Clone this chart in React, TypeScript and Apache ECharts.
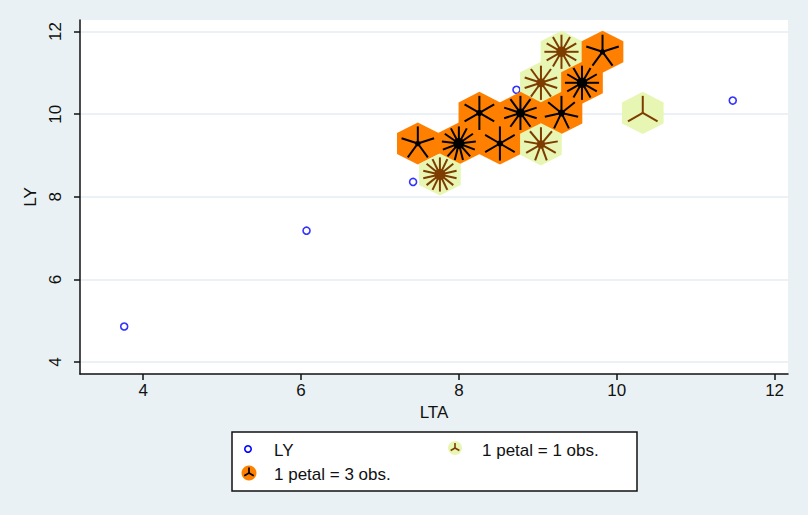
import React, { useEffect, useRef } from "react";
import * as echarts from "echarts";

// Plain scatter observations (LY vs LTA) not binned into sunflowers
const pointX = [3.76, 6.07, 7.42, 8.73, 11.47];
const pointY = [4.86, 7.18, 8.36, 10.59, 10.33];

// Sunflower bins: centre, petal count, kind (0 = light: 1 petal = 1 obs, 1 = dark: 1 petal = 3 obs)
const flowerX = [9.3, 9.82, 9.04, 9.56, 8.26, 8.78, 9.3, 10.33, 7.48, 8.0, 8.52, 9.04, 7.76];
const flowerY = [11.51, 11.51, 10.76, 10.76, 10.03, 10.03, 10.03, 10.03, 9.29, 9.29, 9.29, 9.27, 8.54];
const flowerPetals = [12, 5, 10, 12, 6, 10, 7, 3, 5, 13, 6, 9, 14];
const flowerKind = [0, 1, 0, 1, 1, 1, 1, 0, 1, 1, 1, 0, 0];

const xTicks = [4, 6, 8, 10, 12];
const yTicks = [4, 6, 8, 10, 12];

const legendLabels = ["LY", "1 petal = 1 obs.", "1 petal = 3 obs."];

const HEX_W = 0.528;
const HEX_H = 1.02;

const FONT = "'Liberation Sans', Arial, Helvetica, sans-serif";
const FS = 17;
const LIGHT_FILL = "#e8f6b3";
const LIGHT_PETAL = "#7d3c00";
const DARK_FILL = "#ff8000";
const DARK_PETAL = "#000000";
const BLUE = "#0000ff";

function petalLines(cx: number, cy: number, n: number, len: number, color: string, lw: number) {
  const out: any[] = [];
  for (let k = 0; k < n; k++) {
    const a = (2 * Math.PI * k) / n;
    out.push({
      type: "line",
      shape: { x1: cx, y1: cy, x2: cx + len * Math.sin(a), y2: cy - len * Math.cos(a) },
      style: { stroke: color, lineWidth: lw, lineCap: "butt" },
    });
  }
  return out;
}

export default function App() {
  const ref = useRef<HTMLDivElement>(null);
  useEffect(() => {
    if (!ref.current) return;
    const chart = echarts.init(ref.current, null, { renderer: "svg" });

    const flowerData = flowerX.map((x, i) => [x, flowerY[i], flowerPetals[i]]);
    const pointData = pointX.map((x, i) => [x, pointY[i]]);

    const legendGraphic: any[] = [
      {
        type: "rect",
        shape: { x: 232, y: 432, width: 405, height: 59 },
        style: { fill: "#ffffff", stroke: "#111", lineWidth: 1.5 },
      },
      {
        type: "circle",
        shape: { cx: 248, cy: 449, r: 3.2 },
        style: { fill: "#ffffff", stroke: BLUE, lineWidth: 1.6 },
      },
      {
        type: "text",
        style: { x: 274, y: 450, text: legendLabels[0], font: `${FS}px ${FONT}`, fill: "#111", verticalAlign: "middle" },
      },
      { type: "circle", shape: { cx: 455, cy: 448, r: 7 }, style: { fill: LIGHT_FILL } },
      ...petalLines(455, 448, 3, 5, LIGHT_PETAL, 1.6),
      {
        type: "text",
        style: { x: 482, y: 450, text: legendLabels[1], font: `${FS}px ${FONT}`, fill: "#111", verticalAlign: "middle" },
      },
      { type: "circle", shape: { cx: 249, cy: 473, r: 7.5 }, style: { fill: DARK_FILL } },
      ...petalLines(249, 473, 3, 5.5, DARK_PETAL, 1.7),
      {
        type: "text",
        style: { x: 274, y: 474, text: legendLabels[2], font: `${FS}px ${FONT}`, fill: "#111", verticalAlign: "middle" },
      },
    ];

    chart.setOption({
      animation: false,
      backgroundColor: "#e9f1f4",
      textStyle: { fontFamily: FONT },
      grid: {
        left: 80,
        top: 20,
        right: 20,
        bottom: 141,
        show: true,
        backgroundColor: "#ffffff",
        borderWidth: 0,
      },
      xAxis: {
        type: "value",
        min: 3.2,
        max: 12.17,
        name: "LTA",
        nameLocation: "middle",
        nameGap: 24,
        nameTextStyle: { fontSize: FS, color: "#111", fontFamily: FONT },
        axisLine: { show: true, onZero: false, lineStyle: { color: "#111", width: 1.5 } },
        axisTick: { show: true, length: 6, lineStyle: { color: "#111", width: 1.5 }, customValues: xTicks },
        axisLabel: { fontSize: FS, color: "#111", margin: 8, customValues: xTicks, fontFamily: FONT },
        splitLine: { show: false },
      },
      yAxis: {
        type: "value",
        min: 3.71,
        max: 12.28,
        name: "LY",
        nameLocation: "middle",
        nameGap: 40,
        nameTextStyle: { fontSize: FS, color: "#111", fontFamily: FONT },
        axisLine: { show: true, onZero: false, lineStyle: { color: "#111", width: 1.5 } },
        axisTick: { show: true, length: 6, lineStyle: { color: "#111", width: 1.5 }, customValues: yTicks },
        axisLabel: { fontSize: FS, color: "#111", margin: 16, rotate: 90, customValues: yTicks, fontFamily: FONT },
        splitLine: { show: true, lineStyle: { color: "#e4ecf0", width: 1.5 }, customValues: yTicks },
      },
      series: [
        {
          name: "LY",
          type: "scatter",
          data: pointData,
          symbol: "circle",
          symbolSize: 7,
          itemStyle: { color: "#ffffff", borderColor: BLUE, borderWidth: 1.6 },
          z: 2,
        },
        {
          name: "sunflowers",
          type: "custom",
          data: flowerData,
          z: 3,
          renderItem: (params: any, api: any) => {
            const i = params.dataIndex;
            const c = api.coord([api.value(0), api.value(1)]);
            const s = api.size([HEX_W, HEX_H]);
            const hw = s[0] / 2;
            const hh = s[1] / 2;
            const kind = flowerKind[i];
            const n = api.value(2);
            const fill = kind === 0 ? LIGHT_FILL : DARK_FILL;
            const petal = kind === 0 ? LIGHT_PETAL : DARK_PETAL;
            const len = hw * 0.82;
            const children: any[] = [
              {
                type: "polygon",
                shape: {
                  points: [
                    [c[0], c[1] - hh],
                    [c[0] + hw, c[1] - hh / 2],
                    [c[0] + hw, c[1] + hh / 2],
                    [c[0], c[1] + hh],
                    [c[0] - hw, c[1] + hh / 2],
                    [c[0] - hw, c[1] - hh / 2],
                  ],
                },
                style: { fill },
              },
              ...petalLines(c[0], c[1], n, len, petal, 2),
            ];
            if (n >= 5) {
              children.push({
                type: "circle",
                shape: { cx: c[0], cy: c[1], r: Math.min(5.5, 1 + n * 0.35) },
                style: { fill: petal },
              });
            }
            return { type: "group", children };
          },
        },
      ],
      graphic: legendGraphic,
    });
    return () => chart.dispose();
  }, []);
  return (
    <div
      ref={ref}
      style={{ position: "absolute", left: 0, top: 0, width: 808, height: 515 }}
    />
  );
}
